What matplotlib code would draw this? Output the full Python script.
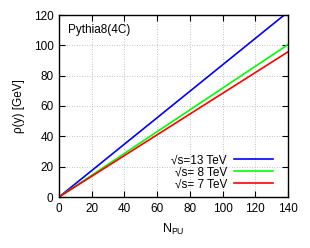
import numpy as np
import matplotlib
matplotlib.use("Agg")
import matplotlib.pyplot as plt

n_pu = [0, 140]
rho_13 = [0, 122.0]
rho_8 = [0, 100.5]
rho_7 = [0, 95.7]
labels = ["\u221as=13 TeV", "\u221as= 8 TeV", "\u221as= 7 TeV"]
colors = ["#0000ff", "#00ff00", "#ff0000"]

plt.rcParams["font.family"] = ["Liberation Sans", "DejaVu Sans"]
plt.rcParams["font.size"] = 8

fig = plt.figure(figsize=(3.10, 2.48), dpi=100)
ax = fig.add_axes([59 / 310, 1 - 197 / 248, (288 - 59) / 310, (197 - 15) / 248])

for y, lab, c in zip([rho_13, rho_8, rho_7], labels, colors):
    ax.plot(n_pu, y, color=c, lw=1.2, label=lab)

ax.set_xlim(0, 140)
ax.set_ylim(0, 120)
ax.set_xticks(np.arange(0, 141, 20))
ax.set_yticks(np.arange(0, 121, 20))
ax.tick_params(direction="in", top=True, right=True, length=4, width=0.8, pad=4, labelsize=8.5)
ax.grid(True, color="#b0b0b0", linestyle=(0, (1, 2)), lw=0.6)
for s in ax.spines.values():
    s.set_linewidth(1.0)

ax.set_xlabel("N$_\\mathregular{PU}$", labelpad=5, fontsize=9)
ax.set_ylabel("\u03c1(y) [GeV]", labelpad=6, fontsize=8.5)
ax.text(0.04, 0.92, "Pythia8(4C)", transform=ax.transAxes, va="center", ha="left", fontsize=8.5)

leg = ax.legend(loc="lower right", markerfirst=False, frameon=False, handlelength=3.3,
                labelspacing=0.0, borderaxespad=0.0, handletextpad=0.6, borderpad=0.0,
                bbox_to_anchor=(0.935, 0.035), fontsize=8.5)
for t in leg.get_texts():
    t.set_ha("right")

fig.savefig("out.png", dpi=100)
